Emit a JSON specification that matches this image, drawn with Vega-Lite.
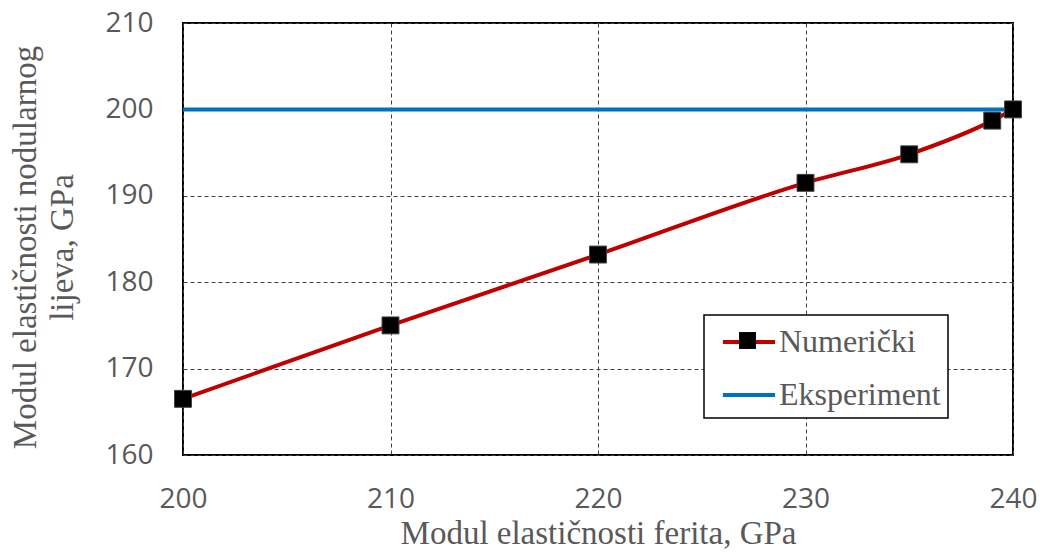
{
  "$schema": "https://vega.github.io/schema/vega-lite/v6.json",
  "width": 830,
  "height": 432,
  "autosize": "none",
  "padding": {"left": 183, "top": 23, "right": 27, "bottom": 101},
  "background": "white",
  "config": {
    "view": {"stroke": "black", "strokeWidth": 2},
    "axis": {
      "domain": false,
      "ticks": false,
      "tickSize": 0,
      "grid": true,
      "gridColor": "#404040",
      "gridDash": [4, 3],
      "gridWidth": 1,
      "labelFont": "Open Sans",
      "labelFontSize": 28,
      "labelColor": "#595959",
      "labelOverlap": false,
      "labelFlush": false,
      "titleFont": "Liberation Serif",
      "titleFontSize": 33,
      "titleColor": "#595959",
      "titleFontWeight": "normal"
    }
  },
  "data": {
    "values": [
      {"series": "Numerički", "x": 200, "y": 166.5},
      {"series": "Numerički", "x": 210, "y": 175.0},
      {"series": "Numerički", "x": 220, "y": 183.2},
      {"series": "Numerički", "x": 230, "y": 191.5},
      {"series": "Numerički", "x": 235, "y": 194.8},
      {"series": "Numerički", "x": 239, "y": 198.7},
      {"series": "Numerički", "x": 240, "y": 200.0},
      {"series": "Eksperiment", "x": 200, "y": 200},
      {"series": "Eksperiment", "x": 240, "y": 200}
    ]
  },
  "encoding": {
    "x": {
      "field": "x",
      "type": "quantitative",
      "scale": {"domain": [200, 240], "nice": false, "zero": false},
      "axis": {
        "values": [200, 210, 220, 230, 240],
        "labelBaseline": "alphabetic",
        "labelPadding": 52,
        "title": "Modul elastičnosti ferita, GPa",
        "titleX": 415,
        "titleY": 88,
        "titleAlign": "center",
        "titleBaseline": "alphabetic"
      }
    },
    "y": {
      "field": "y",
      "type": "quantitative",
      "scale": {"domain": [160, 210], "nice": false, "zero": false},
      "axis": {
        "values": [160, 170, 180, 190, 200, 210],
        "labelPadding": 30,
        "title": ["Modul elastičnosti nodularnog", "lijeva, GPa"],
        "titleAngle": -90,
        "titleX": -148,
        "titleY": 224,
        "titleAlign": "center",
        "titleBaseline": "alphabetic",
        "titleLineHeight": 37
      }
    }
  },
  "layer": [
    {
      "mark": {"type": "line", "strokeWidth": 4, "interpolate": "monotone"},
      "encoding": {
        "color": {
          "field": "series",
          "type": "nominal",
          "scale": {"domain": ["Numerički", "Eksperiment"], "range": ["#C00000", "#0070C0"]},
          "legend": {
            "orient": "none",
            "legendX": 521,
            "legendY": 292,
            "title": null,
            "padding": 7,
            "strokeColor": "black",
            "fillColor": "white",
            "symbolType": "M-1.45,0H1.45",
            "symbolSize": 1296,
            "symbolStrokeWidth": 4,
            "symbolOffset": 18,
            "labelOffset": 10,
            "rowPadding": 17,
            "labelFont": "Liberation Serif",
            "labelFontSize": 32,
            "labelColor": "#595959",
            "labelLimit": 0,
            "encode": {"legend": {"update": {"strokeWidth": {"value": 1.5}}}}
          }
        }
      }
    },
    {
      "transform": [{"filter": "datum.series === 'Numerički'"}],
      "mark": {"type": "point", "filled": true, "size": 1296, "opacity": 1, "fill": "black", "stroke": "#404040", "strokeWidth": 1},
      "encoding": {
        "shape": {
          "field": "series",
          "type": "nominal",
          "scale": {"range": ["M-0.47,-0.47H0.47V0.47H-0.47Z"]},
          "legend": {
            "orient": "none",
            "legendX": 521,
            "legendY": 292,
            "title": null,
            "padding": 7,
            "symbolSize": 1296,
            "symbolOffset": 18,
            "labelOffset": 10,
            "rowPadding": 17,
            "symbolFillColor": "black",
            "symbolStrokeColor": "#404040",
            "symbolStrokeWidth": 1,
            "labelFont": "Liberation Serif",
            "labelFontSize": 1,
            "labelOpacity": 0,
            "zindex": 1
          }
        }
      }
    }
  ]
}
